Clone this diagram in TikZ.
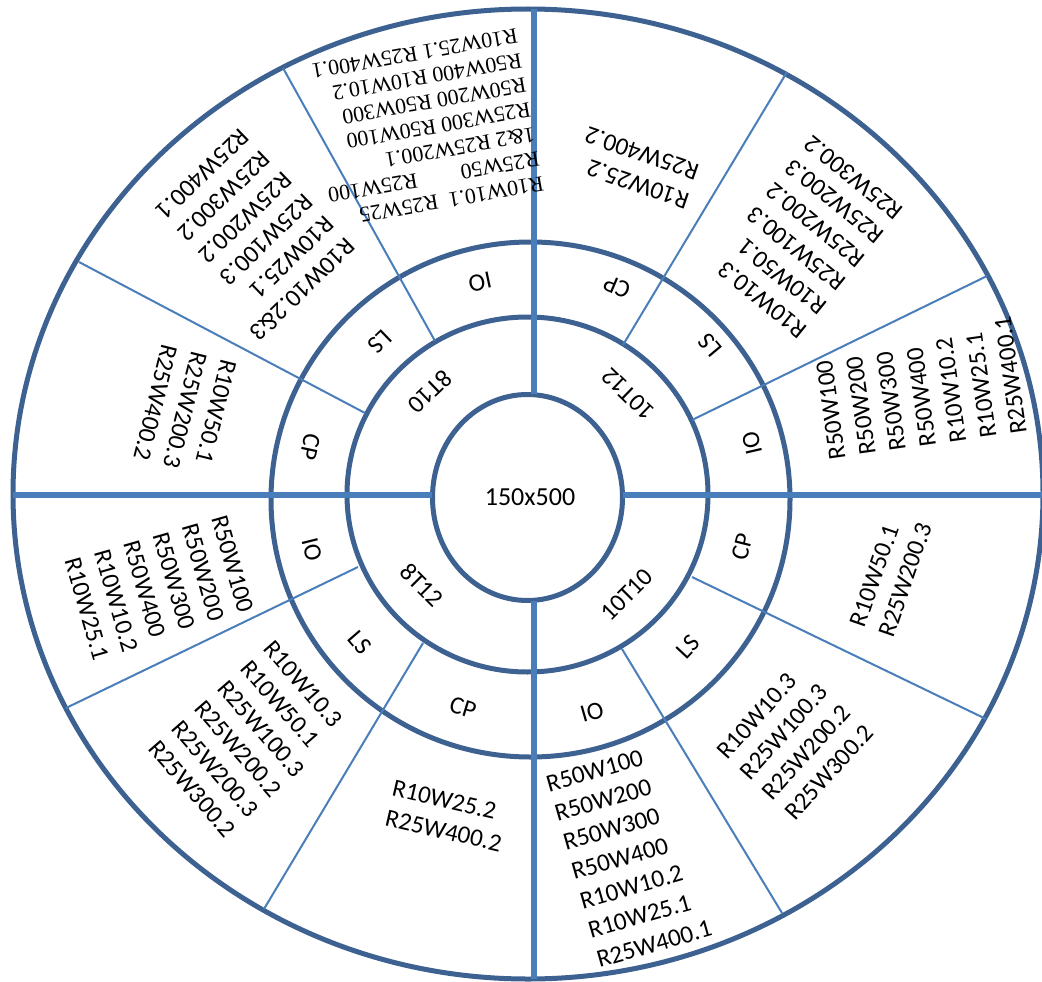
\documentclass[tikz,border=0pt]{standalone}
\usepackage{fontspec}
\setmainfont{Carlito}
\newfontfamily\serifblock{Liberation Serif}
\definecolor{ringblue}{HTML}{3D6291}
\definecolor{lineblue}{HTML}{4A7EBB}
\begin{document}
\begin{tikzpicture}[x=1pt,y=-1pt,
  ring/.style={draw=ringblue,line width=5pt},
  axis/.style={draw=lineblue,line width=5.5pt},
  sep/.style={draw=lineblue,line width=2pt},
  lbl/.style={font=\fontsize{25}{30.5}\selectfont,inner sep=0pt},
  blk/.style={font=\fontsize{25}{30.5}\selectfont,align=left,inner sep=0pt},
  sblk/.style={font=\serifblock\fontsize{22}{25}\selectfont,align=left,inner sep=0pt}]
\useasboundingbox[fill=white] (0,0) rectangle (1042,982);

% rings
\draw[ring] (527.5,497.5) ellipse [x radius=95pt, y radius=103pt];
\draw[ring] (527.5,494.5) ellipse [x radius=180.5pt, y radius=177.5pt];
\draw[ring] (530.5,499.5) ellipse [x radius=259.5pt, y radius=257.5pt];
\draw[ring] (528,494) ellipse [x radius=515pt, y radius=485pt];

% axes
\coordinate (vt) at (534,9);
\coordinate (vi) at (534,394);
\coordinate (vj) at (534,601);
\coordinate (vb) at (534,979);
\coordinate (hl) at (13,495);
\coordinate (hi) at (432,495);
\coordinate (hj) at (623,495);
\coordinate (hr) at (1042,495);
\draw[axis] (vt) -- (vi);
\draw[axis] (vj) -- (vb);
\draw[axis] (hl) -- (hi);
\draw[axis] (hj) -- (hr);

% separators
\coordinate (tla) at (435,341); \coordinate (tlA) at (283,68);
\coordinate (tlb) at (365,413); \coordinate (tlB) at (79,262);
\coordinate (tra) at (623,345); \coordinate (trA) at (787,72);
\coordinate (trb) at (692,420); \coordinate (trB) at (987,276);
\coordinate (bra) at (692,577); \coordinate (brA) at (986,719);
\coordinate (brb) at (622,649); \coordinate (brB) at (782,913);
\coordinate (bla) at (358,567); \coordinate (blA) at (66,708);
\coordinate (blb) at (423,643); \coordinate (blB) at (264,909);
\draw[sep] (tla) -- (tlA);
\draw[sep] (tlb) -- (tlB);
\draw[sep] (tra) -- (trA);
\draw[sep] (trb) -- (trB);
\draw[sep] (bra) -- (brA);
\draw[sep] (brb) -- (brB);
\draw[sep] (bla) -- (blA);
\draw[sep] (blb) -- (blB);

% centre
\node[lbl,font=\fontsize{26}{31}\selectfont] (core) at (530,497) {150x500};

% ring 1
\node[lbl,rotate=224] (r8t10) at (430,392) {8T10};
\node[lbl,rotate=136] (r10t12) at (628,394) {10T12};
\node[lbl,rotate=45] (r10t10) at (627,595) {10T10};
\node[lbl,rotate=-45] (r8t12) at (422,585) {8T12};

% ring 2
\node[lbl,rotate=192] (tlio) at (480,282) {IO};
\node[lbl,rotate=224] (tlls) at (380,342) {LS};
\node[lbl,rotate=258] (tlcp) at (310,447) {CP};
\node[lbl,rotate=157] (trcp) at (617,287) {CP};
\node[lbl,rotate=130] (trls) at (710,345) {LS};
\node[lbl,rotate=103] (trio) at (752,443) {IO};
\node[lbl,rotate=76] (brcp) at (742,547) {CP};
\node[lbl,rotate=47] (brls) at (688,647) {LS};
\node[lbl,rotate=16] (brio) at (592,712) {IO};
\node[lbl,rotate=-76] (blio) at (312,550) {IO};
\node[lbl,rotate=-49] (blls) at (360,643) {LS};
\node[lbl,rotate=-17] (blcp) at (463,708) {CP};

% outer blocks
\node[sblk,rotate=190] (btlio) at (425,128)
  {R10W10.1\ \ R25W25\\R25W50\qquad R25W100\\1\&2 R25W200.1\\R25W300 R50W100\\R50W200 R50W300\\R50W400 R10W10.2\\R10W25.1 R25W400.1};
\node[blk,rotate=224] (btlls) at (250,235)
  {R10W10.2\&3\\R10W25.1\\R25W100.3\\R25W200.2\\R25W300.2\\R25W400.1};
\node[blk,rotate=256] (btlcp) at (185,410)
  {R10W50.1\\R25W200.3\\R25W400.2};
\node[blk,rotate=161] (btrcp) at (637,168)
  {R10W25.2\\R25W400.2};
\node[blk,rotate=141] (btrls) at (806,237)
  {R10W10.3\\R10W50.1\\R25W100.3\\R25W200.2\\R25W200.3\\R25W300.2};
\node[blk,rotate=98] (btrio) at (920,388)
  {R50W100\\R50W200\\R50W300\\R50W400\\R10W10.2\\R10W25.1\\R25W400.1};
\node[blk,rotate=71] (bbrcp) at (891,575)
  {R10W50.1\\R25W200.3};
\node[blk,rotate=48] (bbrls) at (795,742)
  {R10W10.3\\R25W100.3\\R25W200.2\\R25W300.2};
\node[blk,rotate=16] (bbrio) at (629,856)
  {R50W100\\R50W200\\R50W300\\R50W400\\R10W10.2\\R10W25.1\\R25W400.1};
\node[blk,rotate=-74] (bblio) at (160,588)
  {R50W100\\R50W200\\R50W300\\R50W400\\R10W10.2\\R10W25.1};
\node[blk,rotate=-49] (bblls) at (250,739)
  {R10W10.3\\R10W50.1\\R25W100.3\\R25W200.2\\R25W200.3\\R25W300.2};
\node[blk,rotate=-13] (bblcp) at (447,816)
  {R10W25.2\\R25W400.2};
\end{tikzpicture}
\end{document}
